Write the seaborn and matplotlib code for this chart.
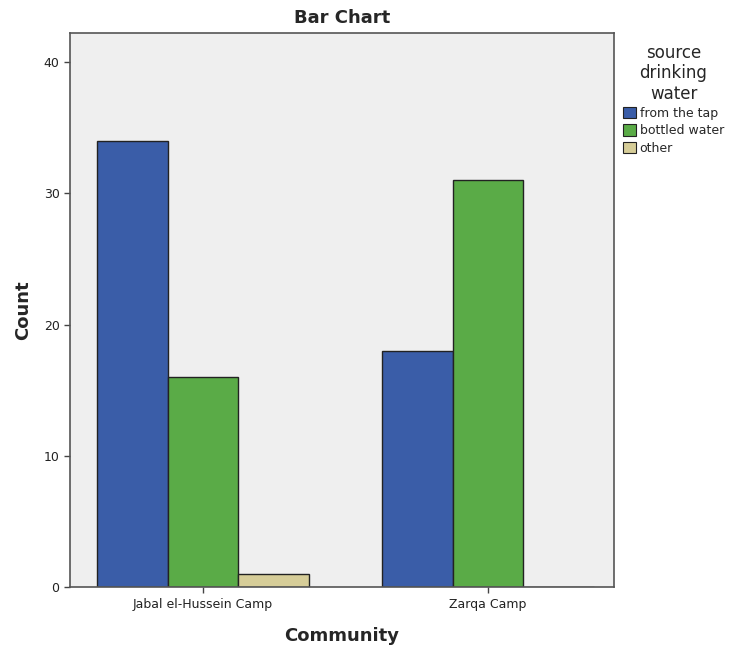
import pandas as pd
import matplotlib.pyplot as plt
import seaborn as sns

# Counts
communities = ['Jabal el-Hussein Camp', 'Zarqa Camp']
sources = ['from the tap', 'bottled water', 'other']
tap_counts = [34, 18]
bottled_counts = [16, 31]
other_counts = [1, 0]

df = pd.DataFrame({
    'Community': communities * 3,
    'source': [sources[0]] * 2 + [sources[1]] * 2 + [sources[2]] * 2,
    'Count': tap_counts + bottled_counts + other_counts,
})

palette = {'from the tap': '#3a5da8', 'bottled water': '#5aab47', 'other': '#d6cd98'}

sns.set_style('white')
plt.rcParams['font.family'] = ['DejaVu Sans']

fig = plt.figure(figsize=(7.36, 6.48), dpi=100)
ax = fig.add_axes([0.095, 0.094, 0.739, 0.855])
ax.set_facecolor('#efefef')

sns.barplot(data=df, x='Community', y='Count', hue='source', hue_order=sources,
            palette=palette, width=0.745, saturation=1, edgecolor='#222222',
            linewidth=1.0, ax=ax, legend=False)

ax.set_xlim(-0.467, 1.442)
ax.set_ylim(0, 42.2)
ax.set_yticks([0, 10, 20, 30, 40])
for s in ax.spines.values():
    s.set_color('#555555')
    s.set_linewidth(1.2)
ax.tick_params(axis='both', direction='out', length=4, width=1, color='#444444',
               labelsize=9, labelcolor='#222222', left=True, bottom=True)
ax.set_xlabel('Community', fontsize=13, fontweight='bold', labelpad=12)
ax.set_ylabel('Count', fontsize=13, fontweight='bold', labelpad=8)
ax.set_title('Bar Chart', fontsize=13, fontweight='bold', pad=7)

# Legend on the right, outside the plot
handles = [plt.Rectangle((0, 0), 1, 1, facecolor=palette[s], edgecolor='#222222', linewidth=0.8)
           for s in sources]
leg = fig.legend(handles, sources, title='source\ndrinking\nwater', loc='upper left',
                 bbox_to_anchor=(0.835, 0.945), frameon=False, fontsize=9,
                 title_fontsize=12, handlelength=1.0, handleheight=1.0,
                 handletextpad=0.3, labelspacing=0.35, borderpad=0.2)
leg.get_title().set_multialignment('center')
leg.get_title().set_linespacing(1.15)

fig.savefig('out.png', dpi=100)
